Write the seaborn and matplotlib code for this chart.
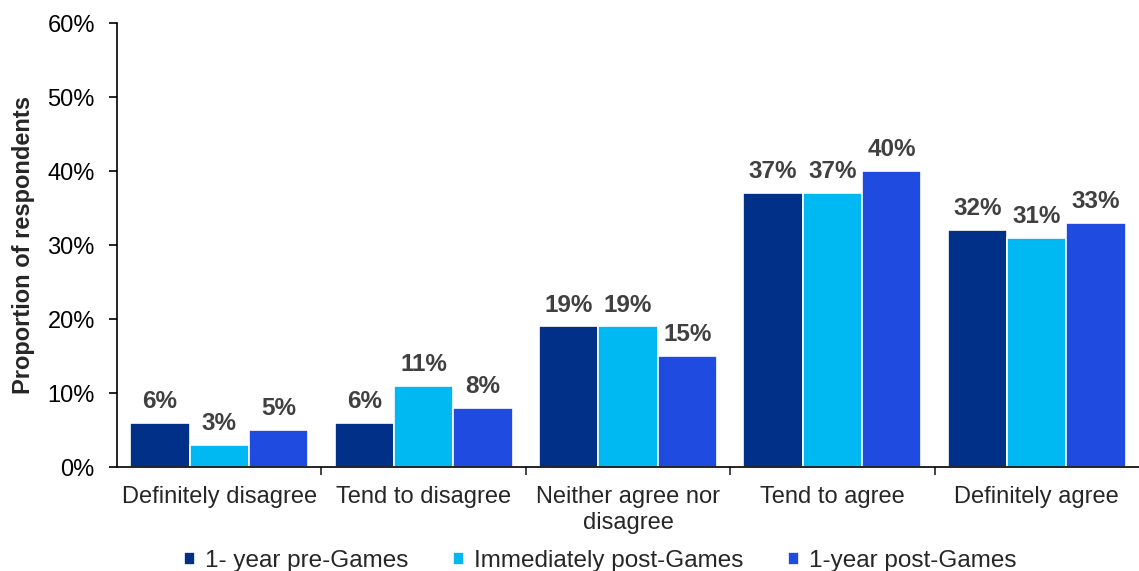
import matplotlib
matplotlib.use("Agg")
import matplotlib.pyplot as plt
from matplotlib.ticker import FixedLocator, FuncFormatter
import seaborn as sns
import pandas as pd

categories = ["Definitely disagree", "Tend to disagree", "Neither agree nor\ndisagree",
              "Tend to agree", "Definitely agree"]
series_names = ["1- year pre-Games", "Immediately post-Games", "1-year post-Games"]
pre_games = [6, 6, 19, 37, 32]
immediately_post = [3, 11, 19, 37, 31]
year_post = [5, 8, 15, 40, 33]
colors = ["#003087", "#00B9F2", "#1F4BE0"]

rows = []
for name, vals in zip(series_names, [pre_games, immediately_post, year_post]):
    for cat, v in zip(categories, vals):
        rows.append({"Response": cat, "Survey": name, "Value": v})
df = pd.DataFrame(rows)

sns.set_style("white")
plt.rcParams["font.family"] = ["Liberation Sans", "DejaVu Sans"]

fig = plt.figure(figsize=(11.39, 5.71), dpi=100)
ax = fig.add_axes([117 / 1139, 1 - 467 / 571, 1 - 117 / 1139, (467 - 23) / 571])

sns.barplot(data=df, x="Response", y="Value", hue="Survey", order=categories,
            hue_order=series_names, palette=colors, width=0.87, ax=ax,
            edgecolor="white", linewidth=1.2, saturation=1, legend=True)

for cont in ax.containers:
    ax.bar_label(cont, labels=[f"{v:.0f}%" for v in cont.datavalues], padding=7,
                 fontsize=17.5, fontweight="bold", color="#404040")

ax.set_ylim(0, 60)
ax.set_xlim(-0.5, len(categories) - 0.5)
ax.yaxis.set_major_locator(FixedLocator(range(0, 61, 10)))
ax.yaxis.set_major_formatter(FuncFormatter(lambda v, p: f"{v:.0f}%"))
ax.tick_params(axis="y", which="major", length=6, width=1.2, direction="out",
               labelsize=17, colors="black", pad=10, left=True)
ax.tick_params(axis="x", which="major", length=0, labelsize=17, pad=14)
ax.xaxis.set_minor_locator(FixedLocator([i + 0.5 for i in range(len(categories) - 1)]))
ax.tick_params(axis="x", which="minor", length=6, width=1.2, direction="out", bottom=True)
ax.set_xlabel("")
ax.set_ylabel("Proportion of respondents", fontsize=17, fontweight="bold", labelpad=9)

for side in ["top", "right"]:
    ax.spines[side].set_visible(False)
for side in ["left", "bottom"]:
    ax.spines[side].set_color("black")
    ax.spines[side].set_linewidth(1.2)

handles, labels = ax.get_legend_handles_labels()
ax.get_legend().remove()
fig.legend(handles, labels, loc="center", bbox_to_anchor=(600 / 1139, 1 - 561 / 571),
           ncol=3, frameon=False, fontsize=17.5, handlelength=0.45, handleheight=0.45,
           handletextpad=0.4, columnspacing=1.85)

fig.savefig("out.png", dpi=100)
